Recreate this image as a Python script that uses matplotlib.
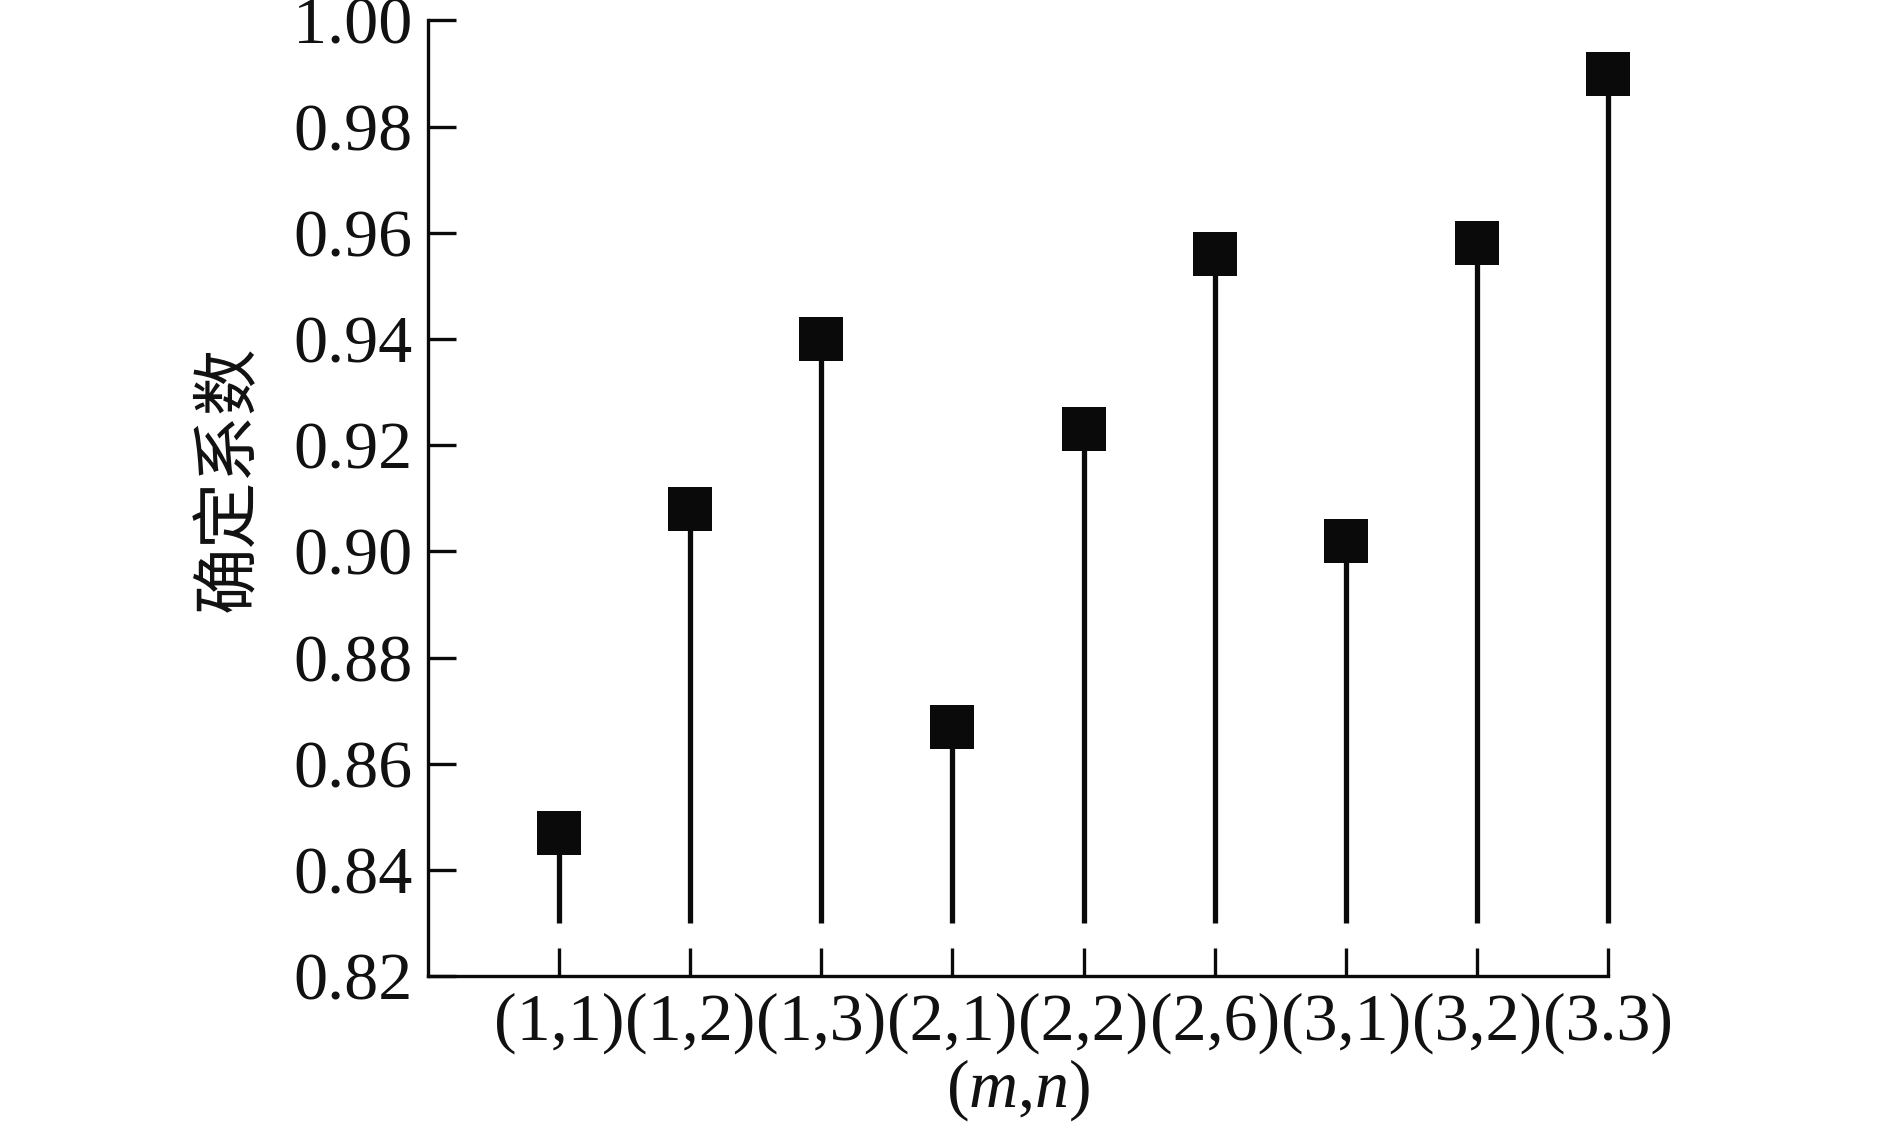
import matplotlib
matplotlib.use("Agg")
import matplotlib.pyplot as plt

categories = ["(1,1)", "(1,2)", "(1,3)", "(2,1)", "(2,2)", "(2,6)", "(3,1)", "(3,2)", "(3.3)"]
r2_values = [0.847, 0.908, 0.940, 0.867, 0.923, 0.956, 0.902, 0.958, 0.990]
stem_base = 0.83
y_ticks = [0.82, 0.84, 0.86, 0.88, 0.90, 0.92, 0.94, 0.96, 0.98, 1.00]

plt.rcParams['font.family'] = ['Liberation Serif', 'Noto Sans CJK SC']
plt.rcParams['mathtext.fontset'] = 'custom'
plt.rcParams['mathtext.rm'] = 'Liberation Serif'
plt.rcParams['mathtext.it'] = 'Liberation Serif:italic'

fig = plt.figure(figsize=(18.89, 11.32), dpi=100)
ax = fig.add_axes([0.2266, 0.1378, 0.8512 - 0.2266, 0.9819 - 0.1378])

x = list(range(1, len(categories) + 1))
ax.vlines(x, stem_base, r2_values, colors='#0a0a0a', linewidth=3.8, zorder=2, clip_on=False)
ax.plot(x, r2_values, linestyle='none', marker='s', markersize=31, color='#0a0a0a',
        markeredgewidth=0, zorder=3, clip_on=False)

ax.set_xlim(0, 9)
ax.set_ylim(0.82, 1.00)
ax.set_xticks(x)
ax.set_xticklabels(categories)
ax.set_yticks(y_ticks)
ax.set_yticklabels([f"{v:.2f}" for v in y_ticks])

for s in ['top', 'right']:
    ax.spines[s].set_visible(False)
for s in ['left', 'bottom']:
    ax.spines[s].set_linewidth(2.4)
    ax.spines[s].set_color('#0a0a0a')
ax.spines['bottom'].set_bounds(0, 9)

ax.tick_params(axis='both', direction='in', length=20, width=2.4, color='#0a0a0a',
               labelsize=49, labelcolor='#111111')
ax.tick_params(axis='y', pad=11)
ax.tick_params(axis='x', pad=12)

ax.set_xlabel("($m$,$n$)", fontsize=49, labelpad=2, color='#111111')
ax.set_ylabel("确定系数", fontsize=48, family=['Noto Sans CJK SC', 'DejaVu Sans'],
              color='#111111')
ax.yaxis.set_label_coords(-0.14, 0.52)

fig.savefig("out.png", dpi=100, facecolor='white')
